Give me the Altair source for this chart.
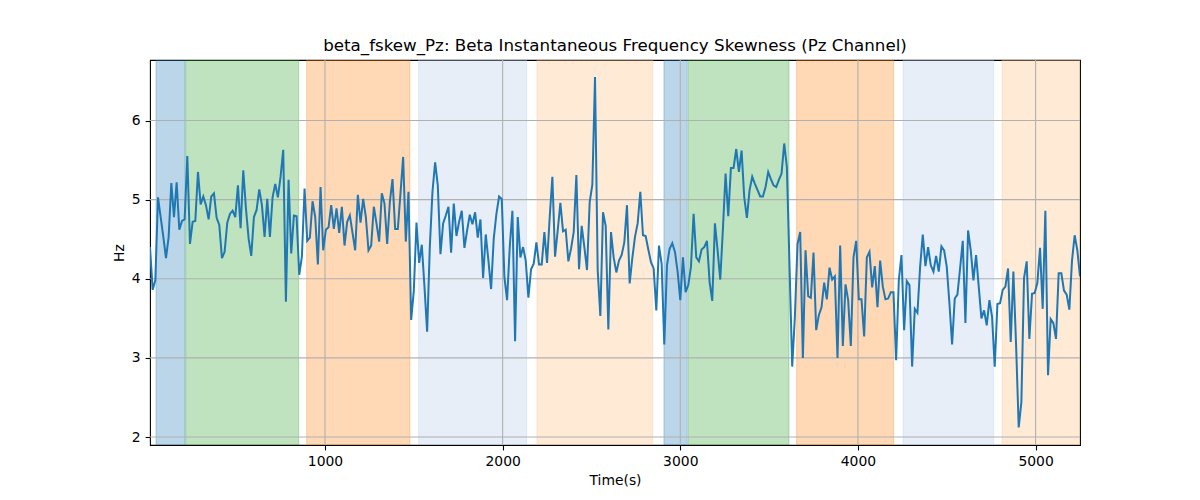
import altair as alt
import pandas as pd

# Sampling clock of the series (seconds)
T0 = 15
STEP = 15

# Beta instantaneous frequency skewness, Pz channel (Hz)
values = [
    4.4, 3.86, 3.98, 5.03, 4.78, 4.53, 4.26, 4.53, 5.21, 4.78, 5.22, 4.62, 4.73, 4.75, 5.55,
    4.44, 4.72, 4.73, 5.35, 4.94, 5.04, 4.93, 4.75, 5.04, 5.08, 4.77, 4.68, 4.26, 4.34, 4.71,
    4.82, 4.86, 4.78, 5.18, 4.64, 5.37, 4.89, 4.51, 4.29, 4.78, 4.87, 5.13, 4.93, 4.53, 5.01,
    4.53, 5.03, 5.2, 5.03, 5.29, 5.63, 3.71, 5.25, 4.32, 4.8, 4.79, 4.05, 4.28, 5.14, 4.48,
    4.52, 4.98, 4.78, 4.18, 5.16, 4.36, 4.62, 4.65, 4.93, 4.63, 4.89, 4.58, 4.91, 4.42, 4.72,
    4.8, 4.58, 4.36, 5.06, 4.71, 5.01, 4.78, 4.36, 4.42, 4.91, 4.7, 4.47, 5.08, 4.95,
    4.44, 4.97, 5.26, 4.63, 4.63, 5.08, 5.54, 4.47, 5.1, 3.48, 3.85, 4.71, 4.2, 4.43, 3.9,
    3.33, 4.4, 5.1, 5.47, 5.18, 4.31, 4.7, 4.8, 4.91, 4.33, 4.95, 4.54, 4.72, 4.86, 4.39,
    4.61, 4.81, 4.69, 4.84, 4.52, 4.75, 4.01, 4.56, 4.23, 3.87, 4.51, 4.82, 5.04, 5.01,
    4.02, 3.73, 4.4, 4.86, 3.21, 4.78, 4.27, 4.4, 4.23, 3.76, 4.12, 4.19, 4.46, 4.18, 4.18,
    4.59, 4.2, 4.78, 5.29, 4.28, 4.61, 4.96, 4.6, 4.62, 4.22, 4.38, 4.59, 5.31, 4.12, 4.67,
    4.4, 4.11, 4.97, 5.19, 6.55, 4.11, 3.53, 4.84, 4.67, 3.36, 4.59, 4.27, 4.08, 4.23,
    4.3, 4.46, 4.93, 3.94, 4.26, 4.53, 4.7, 5.1, 4.55, 4.54, 4.37, 4.21, 4.13, 3.6, 4.42,
    4.19, 3.17, 4.17, 4.38, 4.45, 4.34, 4.09, 3.73, 4.27, 3.83, 3.92, 4.15, 4.82, 4.27, 4.22,
    4.37, 4.4, 4.48, 3.96, 3.72, 4.7, 4.36, 3.99, 4.63, 5.33, 4.79, 5.4, 5.4, 5.64,
    5.35, 5.62, 5.03, 4.77, 5.12, 5.29, 5.2, 5.12, 5.04, 5.04, 5.16, 5.35, 5.26, 5.18, 5.16,
    5.25, 5.33, 5.71, 5.41, 4.15, 2.89, 3.52, 4.44, 4.59, 3.0, 4.36, 3.78, 3.76, 4.33, 3.35,
    3.54, 3.64, 3.95, 3.74, 4.14, 3.99, 4.03, 3.0, 4.42, 3.15, 3.93, 3.73, 3.15, 4.27,
    4.48, 3.74, 3.74, 3.27, 4.27, 4.34, 3.89, 4.16, 3.64, 4.23, 3.9, 3.74, 3.75, 3.83, 3.83,
    2.97, 3.98, 4.3, 3.35, 3.97, 3.92, 2.89, 3.62, 3.57, 4.15, 4.56, 4.16, 4.4, 4.17, 4.09,
    4.29, 4.09, 4.41, 4.36, 4.15, 3.69, 3.17, 3.75, 3.8, 4.13, 4.48, 3.44, 4.61, 4.36,
    3.98, 4.3, 3.9, 3.5, 3.6, 3.41, 3.73, 3.52, 2.89, 3.68, 3.69, 3.86, 3.9, 4.13, 3.2,
    4.09, 3.18, 2.12, 2.44, 4.01, 4.22, 3.24, 3.81, 3.82, 3.95, 4.39, 3.62, 4.86, 2.78, 3.49,
    3.44, 3.24, 4.07, 4.07, 3.85, 3.8, 3.61, 4.23, 4.55, 4.36, 4.03,
]
times = [T0 + STEP * i for i in range(len(values))]

# Shaded segments
band_start = [49, 216, 897, 1527, 2193, 2908, 3045, 3655, 4254, 4811]
band_end = [212, 852, 1478, 2135, 2845, 3039, 3612, 4201, 4764, 5250]
band_color = ["#1f77b4", "#2ca02c", "#ff7f0e", "#aec7e8", "#ffbb78",
              "#1f77b4", "#2ca02c", "#ff7f0e", "#aec7e8", "#ffbb78"]

x_ticks = [1000, 2000, 3000, 4000, 5000]
y_ticks = [2, 3, 4, 5, 6]

X_DOMAIN = [15, 5250]
Y_DOMAIN = [1.899, 6.765]
W, H = 930, 385
FONT = "DejaVu Sans"

line_df = pd.DataFrame({"time": times, "value": values})
band_df = pd.DataFrame({"start": band_start, "end": band_end, "color": band_color})
xg_df = pd.DataFrame({"time": x_ticks})
yg_df = pd.DataFrame({"value": y_ticks})

xs = alt.Scale(domain=X_DOMAIN, nice=False, zero=False)
ys = alt.Scale(domain=Y_DOMAIN, nice=False, zero=False)
x_axis = alt.Axis(title="Time(s)", values=x_ticks, format="d", grid=False)
y_axis = alt.Axis(title="Hz", values=y_ticks, format="d", grid=False)

bands = alt.Chart(band_df).mark_rect(
    fillOpacity=0.3, strokeOpacity=0.3, strokeWidth=1, clip=True
).encode(
    x=alt.X("start:Q", scale=xs, axis=x_axis),
    x2="end:Q",
    y=alt.value(0),
    y2=alt.value(H),
    fill=alt.Color("color:N", scale=None),
    stroke=alt.Color("color:N", scale=None),
)

xgrid = alt.Chart(xg_df).mark_rule(color="#b0b0b0", strokeWidth=1.1).encode(
    x=alt.X("time:Q", scale=xs, axis=x_axis)
)
ygrid = alt.Chart(yg_df).mark_rule(color="#b0b0b0", strokeWidth=1.1).encode(
    y=alt.Y("value:Q", scale=ys, axis=y_axis)
)

line = alt.Chart(line_df).mark_line(color="#1f77b4", strokeWidth=2, clip=True).encode(
    x=alt.X("time:Q", scale=xs, axis=x_axis),
    y=alt.Y("value:Q", scale=ys, axis=y_axis),
)

chart = alt.layer(bands, xgrid, ygrid, line).properties(
    width=W,
    height=H,
    title=alt.TitleParams(
        "beta_fskew_Pz: Beta Instantaneous Frequency Skewness (Pz Channel)",
        font=FONT, fontSize=16.7, fontWeight="normal", color="black",
        anchor="middle", offset=5,
    ),
    autosize=alt.AutoSizeParams(type="none"),
    padding={"left": 142, "top": 52, "right": 100, "bottom": 52},
).configure_view(
    stroke="black", strokeWidth=1.1
).configure_axis(
    domain=False,
    tickColor="black", tickSize=4.9, tickWidth=1.1,
    labelColor="black", labelFont=FONT, labelFontSize=13.9, labelPadding=4.9,
    titleColor="black", titleFont=FONT, titleFontSize=13.9, titleFontWeight="normal",
    titlePadding=5,
)

chart.save("out.html", embed_options={"renderer": "svg", "actions": False})
